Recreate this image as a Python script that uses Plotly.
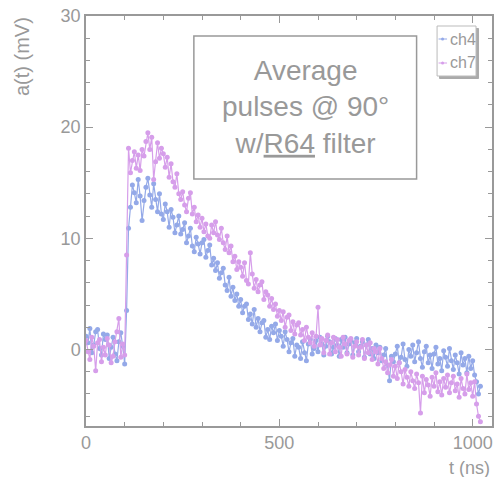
import plotly.graph_objects as go

# sample times (ns), 5 ns spacing
t_ns = [i * 5 for i in range(205)]

ch4_mV = [
    1.2, 0.6, 1.9, -0.3, 0.4, 1.6, 1.8, 0.1, -0.5, 1.4,
    0.9, 1.3, -0.8, 0.2, 1.1, -0.4, -1.0, 0.7, 1.5, 0.3,
    -1.3, 3.5, 10.9, 12.8, 14.8, 14.1, 13.2, 15.3, 13.8, 11.6,
    13.4, 14.6, 15.4, 13.9, 12.8, 14.9, 13.5, 12.4, 14.0, 12.2,
    11.7, 13.1, 12.4, 11.0, 12.6, 11.9, 10.5, 11.2, 12.0, 10.4,
    10.8, 11.4, 9.6, 10.2, 10.9, 9.3, 8.8, 10.1, 9.5, 8.6,
    9.6, 9.9, 8.3, 8.9, 9.4, 7.6, 8.2, 7.1, 7.8, 6.4,
    6.9, 7.3, 5.8, 5.3, 6.5, 4.8, 5.6, 4.4, 5.0, 3.9,
    4.5, 3.3, 3.9, 4.1, 2.7, 3.2, 2.3, 3.6, 2.0, 2.8,
    1.6, 2.4, 2.6, 1.1, 1.8, 0.9, 2.1, 1.5, 2.3, 0.8,
    1.7, 1.2, 0.3, 1.6, 0.9, -0.2, 0.6, 1.0, -0.6, 0.4,
    0.2, -0.8, 0.7, -0.3, -1.0, 0.5, 0.9, -0.4, 0.1, 0.8,
    -0.2, 1.1, 0.5, -0.5, 0.3, 1.2, 0.7, -0.4, 0.2, 1.0,
    0.4, -0.6, 0.9, 0.2, 1.1, -0.3, 0.5, 0.8, -0.5, 0.6,
    1.0, -0.2, 0.3, 0.7, -0.7, 0.4, 0.9, -0.4, 0.1, -0.8,
    0.4, -0.3, 0.2, -1.0, -0.5, 0.1, -1.4, -2.8, -0.6, -1.1,
    -0.4, 0.3, -1.2, -0.7, 0.5, -0.9, -1.5, 0.0, -0.6, 0.4,
    -1.1, -0.3, 0.7, -0.8, -1.6, -0.2, 0.3, -1.2, -0.5, -1.7,
    -0.4, 0.2, -1.3, -0.8, -1.9, -0.1, -0.7, -1.5, 0.1, -1.0,
    -1.8, -0.5, -1.2, -2.2, -0.3, -1.4, -0.8, -2.1, -0.6, -1.7,
    -1.0, -2.3, -2.9, -4.0, -3.3,
]

ch7_mV = [
    0.8, -0.2, -0.9, 1.1, 0.3, -1.9, 0.6, 0.9, -1.1, 0.2,
    -0.5, 1.0, 0.4, -1.2, -0.6, 0.7, 1.6, 2.8, -0.7, 0.5,
    -0.5, 8.5, 18.1, 15.9, 17.0, 17.8, 16.3, 17.5, 16.1, 18.0,
    17.4, 18.7, 19.5, 18.0, 19.1, 15.3, 16.9, 18.6, 17.2, 18.1,
    17.6, 16.4, 17.3, 15.5, 16.7, 15.1, 14.6, 15.8, 14.0, 13.5,
    14.2, 13.0, 12.4, 13.6, 14.1, 12.2, 12.8, 11.5, 12.1, 11.0,
    11.8, 10.6, 11.3, 10.2, 10.0, 11.2, 10.5, 11.5, 10.3, 9.9,
    10.9, 9.6, 9.0, 10.2, 8.7, 9.3, 7.9, 8.4, 7.2, 7.9,
    7.4, 6.6, 7.8, 6.2, 5.9, 8.7, 6.8, 5.5, 6.3, 5.2,
    5.8, 6.1, 4.5, 5.2, 4.9, 3.9, 4.6, 3.6, 4.1, 3.0,
    3.5, 2.6, 3.4, 2.0, 2.9, 3.1, 1.7, 2.5, 1.4, 2.2,
    2.4, 1.3, 1.8, 0.8, 2.0, 1.1, 0.6, 1.5, 0.3, 1.2,
    3.8, 0.4, 1.0, -0.3, 0.8, 1.3, -0.4, 0.6, 1.1, -0.2,
    0.9, 0.2, -0.6, 1.1, 0.5, -0.4, 0.8, 1.0, -0.7, 0.3,
    0.7, -0.5, 0.2, 0.9, -0.8, 0.4, -0.3, 0.6, -0.9, 0.1,
    -0.2, -1.3, 0.1, -0.8, -1.7, -1.1, -2.1, -1.4, -0.9, -2.4,
    -1.5, -2.6, -1.2, -2.0, -3.1, -1.8, -2.5, -3.3, -2.0, -2.8,
    -3.5, -2.2, -3.0, -5.7, -2.4, -3.9, -2.7, -3.2, -4.2, -2.5,
    -3.3, -2.1, -3.8, -2.9, -4.1, -2.6, -3.4, -2.3, -3.9, -3.0,
    -2.4, -3.7, -3.1, -4.3, -2.6, -3.5, -4.0, -2.2, -3.6, -3.0,
    -4.2, -2.9, -4.9, -6.0, -6.5,
]

series_names = ["ch4", "ch7"]
series_colors = ["#94a9e8", "#d69eea"]

W, H = 494, 477
L, R, T, B = 86, 1.5, 16, 51
pw, ph = W - L - R, H - T - B

def px(x):
    return (x - L) / pw

def py(y):
    return (H - B - y) / ph

GRAY = "#999999"
FONT = "Liberation Sans, Arial, Helvetica, sans-serif"

fig = go.Figure()
for name, ys, col in zip(series_names, [ch4_mV, ch7_mV], series_colors):
    fig.add_trace(go.Scatter(
        x=t_ns, y=ys, name=name, mode="lines+markers",
        line=dict(color=col, width=1.2),
        marker=dict(color=col, size=5),
        showlegend=False,
    ))

axis_common = dict(
    showline=True, linecolor=GRAY, linewidth=1.5, mirror="allticks",
    ticks="inside", ticklen=7, tickcolor=GRAY, tickwidth=1,
    showgrid=False, zeroline=False,
    tickfont=dict(family=FONT, size=18, color=GRAY),
)
fig.update_xaxes(range=[0, 1050], tick0=0, dtick=500,
                 minor=dict(dtick=100, ticks="inside", ticklen=4, tickcolor=GRAY),
                 **axis_common)
fig.update_yaxes(range=[-6.88, 30], tick0=0, dtick=10,
                 minor=dict(dtick=2, ticks="inside", ticklen=4, tickcolor=GRAY),
                 **axis_common)

shapes = []
# text box
shapes.append(dict(type="rect", xref="paper", yref="paper",
                   x0=px(194), x1=px(417), y0=py(179), y1=py(36),
                   line=dict(color=GRAY, width=1.5), fillcolor="rgba(0,0,0,0)"))
# legend shadow + box
shapes.append(dict(type="rect", xref="paper", yref="paper",
                   x0=px(440), x1=px(479), y0=py(78.5), y1=py(28.5),
                   line=dict(color="#aaaaaa", width=1), fillcolor="#aaaaaa"))
shapes.append(dict(type="rect", xref="paper", yref="paper",
                   x0=px(437.5), x1=px(476.5), y0=py(76), y1=py(26),
                   line=dict(color="#bbbbbb", width=1), fillcolor="white"))

annotations = []
# legend entries
for i, (name, col) in enumerate(zip(series_names, series_colors)):
    yy = 39 + 24 * i
    shapes.append(dict(type="line", xref="paper", yref="paper",
                       x0=px(439), x1=px(447.5), y0=py(yy), y1=py(yy),
                       line=dict(color=col, width=1)))
    shapes.append(dict(type="circle", xref="paper", yref="paper",
                       x0=px(441.5), x1=px(444.5), y0=py(yy + 1.5), y1=py(yy - 1.5),
                       line=dict(color=col, width=0), fillcolor=col))
    annotations.append(dict(xref="paper", yref="paper", x=px(448.5), y=py(yy),
                            xanchor="left", yanchor="middle", showarrow=False,
                            text=name, font=dict(family=FONT, size=16, color=GRAY)))

annotations.append(dict(xref="paper", yref="paper", x=px(305.5), y=py(107.5),
                        xanchor="center", yanchor="middle", showarrow=False,
                        text="Average<br>pulses @ 90°<br>w/<u>R64</u> filter",
                        align="center",
                        font=dict(family=FONT, size=28, color=GRAY)))
annotations.append(dict(xref="paper", yref="paper", x=px(21.5), y=py(15),
                        xanchor="center", yanchor="top", showarrow=False,
                        textangle=-90, text="a(t) (mV)",
                        font=dict(family=FONT, size=20, color=GRAY)))
annotations.append(dict(xref="paper", yref="paper", x=px(493), y=py(468),
                        xanchor="right", yanchor="middle", showarrow=False,
                        text="t (ns)",
                        font=dict(family=FONT, size=18, color=GRAY)))

fig.update_layout(
    width=W, height=H,
    margin=dict(l=L, r=R, t=T, b=B),
    paper_bgcolor="white", plot_bgcolor="white",
    shapes=shapes, annotations=annotations,
    showlegend=False,
)

fig.write_html("out.html", config={"displayModeBar": False},
               post_script="document.body.style.margin='0';")
